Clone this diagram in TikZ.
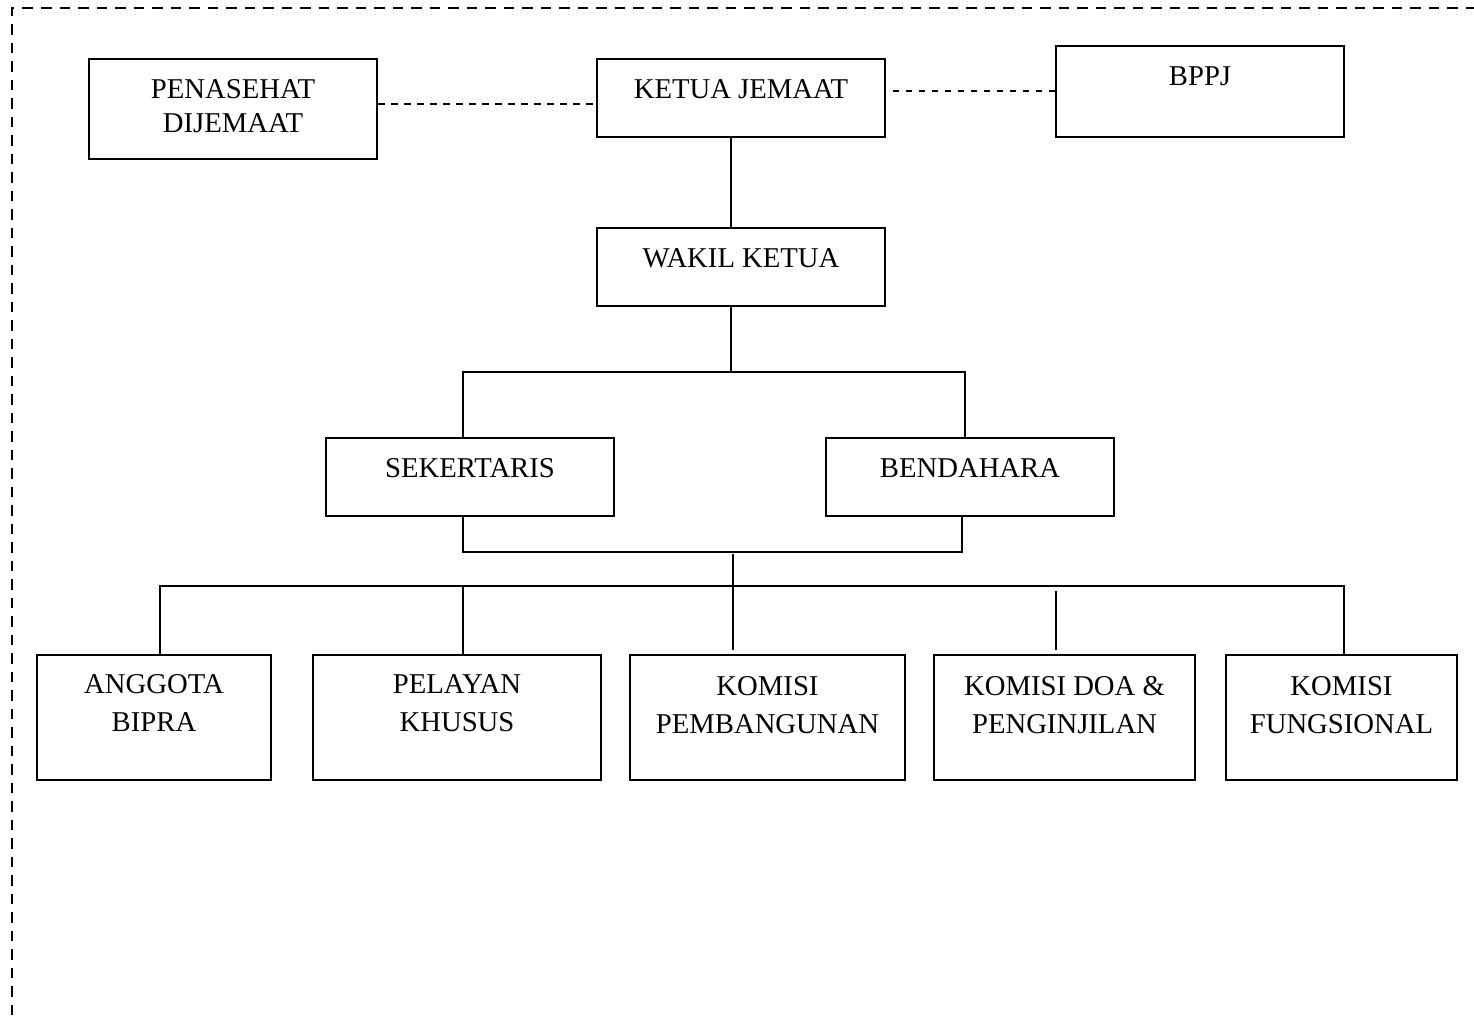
\documentclass[tikz,border=0pt]{standalone}
\usepackage{fontspec}
\setmainfont{Liberation Serif}
\begin{document}
\begin{tikzpicture}[x=1pt,y=-1pt,
  box/.style={draw, line width=2pt, inner sep=0pt},
  lbl/.style={inner sep=0pt, align=center, anchor=north,
    font=\fontsize{28.7}{38}\selectfont},
  conn/.style={line width=2pt},
  dashline/.style={line width=1.6pt, dash pattern=on 6.5pt off 6.5pt},
  frame/.style={line width=2.7pt, dash pattern=on 10.5pt off 8pt}]
\useasboundingbox (0,0) rectangle (1474,1015);

% outer dashed frame (top and left edges)
\draw[frame] (12,1015) -- (12,8) -- (1474,8);

% top row
\node[box, minimum width=288, minimum height=100] (pen) at (233,109) {};
\node[lbl, font=\fontsize{28.7}{34}\selectfont] (pen-t) at ([yshift=-21pt]pen.north) {PENASEHAT\\DIJEMAAT};
\node[box, minimum width=288, minimum height=78] (ketua) at (741,98) {};
\node[lbl] (ketua-t) at ([yshift=-21pt]ketua.north) {KETUA JEMAAT};
\node[box, minimum width=288, minimum height=91] (bppj) at (1200,91) {};
\node[lbl] (bppj-t) at ([yshift=-22pt]bppj.north) {BPPJ};

% second and third rows
\node[box, minimum width=288, minimum height=78] (wakil) at (741,267) {};
\node[lbl] (wakil-t) at ([yshift=-21pt]wakil.north) {WAKIL KETUA};
\node[box, minimum width=288, minimum height=78] (sek) at (470,477) {};
\node[lbl] (sek-t) at ([yshift=-21pt]sek.north) {SEKERTARIS};
\node[box, minimum width=288, minimum height=78] (ben) at (970,477) {};
\node[lbl] (ben-t) at ([yshift=-21pt]ben.north) {BENDAHARA};

% bottom row
\node[box, minimum width=234, minimum height=125] (ang) at (154,717.5) {};
\node[lbl] (ang-t) at ([yshift=-20.5pt]ang.north) {ANGGOTA\\BIPRA};
\node[box, minimum width=288, minimum height=125] (pel) at (457,717.5) {};
\node[lbl] (pel-t) at ([yshift=-20.5pt]pel.north) {PELAYAN\\KHUSUS};
\node[box, minimum width=275, minimum height=125] (pemb) at (767.5,717.5) {};
\node[lbl] (pemb-t) at ([yshift=-22pt]pemb.north) {KOMISI\\PEMBANGUNAN};
\node[box, minimum width=261, minimum height=125] (doa) at (1064.5,717.5) {};
\node[lbl] (doa-t) at ([yshift=-22pt]doa.north) {KOMISI DOA \&\\PENGINJILAN};
\node[box, minimum width=231, minimum height=125] (fung) at (1341.5,717.5) {};
\node[lbl] (fung-t) at ([yshift=-22pt]fung.north) {KOMISI\\FUNGSIONAL};

% advisory links
\draw[dashline] ([yshift=5pt]pen.east) coordinate (pa) -- (pa -| ketua.west);
\draw[dashline] (bppj.west) -- (bppj.west -| ketua.east);

% chain of command
\draw[conn] ([xshift=-10pt]ketua.south) -- ([xshift=-10pt]wakil.north);
\coordinate (bus1) at (731,372);
\draw[conn] ([xshift=-10pt]wakil.south) -- (bus1);
\draw[conn] ([xshift=-7pt]sek.north) |- ([xshift=-5pt]ben.north |- bus1) -- ([xshift=-5pt]ben.north);

\coordinate (bus2) at (733,552);
\draw[conn] ([xshift=-7pt]sek.south) |- ([xshift=-8pt]ben.south |- bus2) -- ([xshift=-8pt]ben.south);
\draw[conn] ([yshift=-2pt]bus2) -- ([xshift=-34.5pt,yshift=4pt]pemb.north);

\coordinate (bus3) at (1344,586);
\draw[conn] ([xshift=6pt]ang.north) |- (bus3) -- ([xshift=2.5pt]fung.north);
\draw[conn] ([xshift=6pt]pel.north) -- ([xshift=6pt]pel.north |- bus3);
\draw[conn] ([xshift=-8.5pt,yshift=4pt]doa.north) -- ([xshift=-8.5pt,yshift=-5pt]doa.north |- bus3);
\end{tikzpicture}
\end{document}
